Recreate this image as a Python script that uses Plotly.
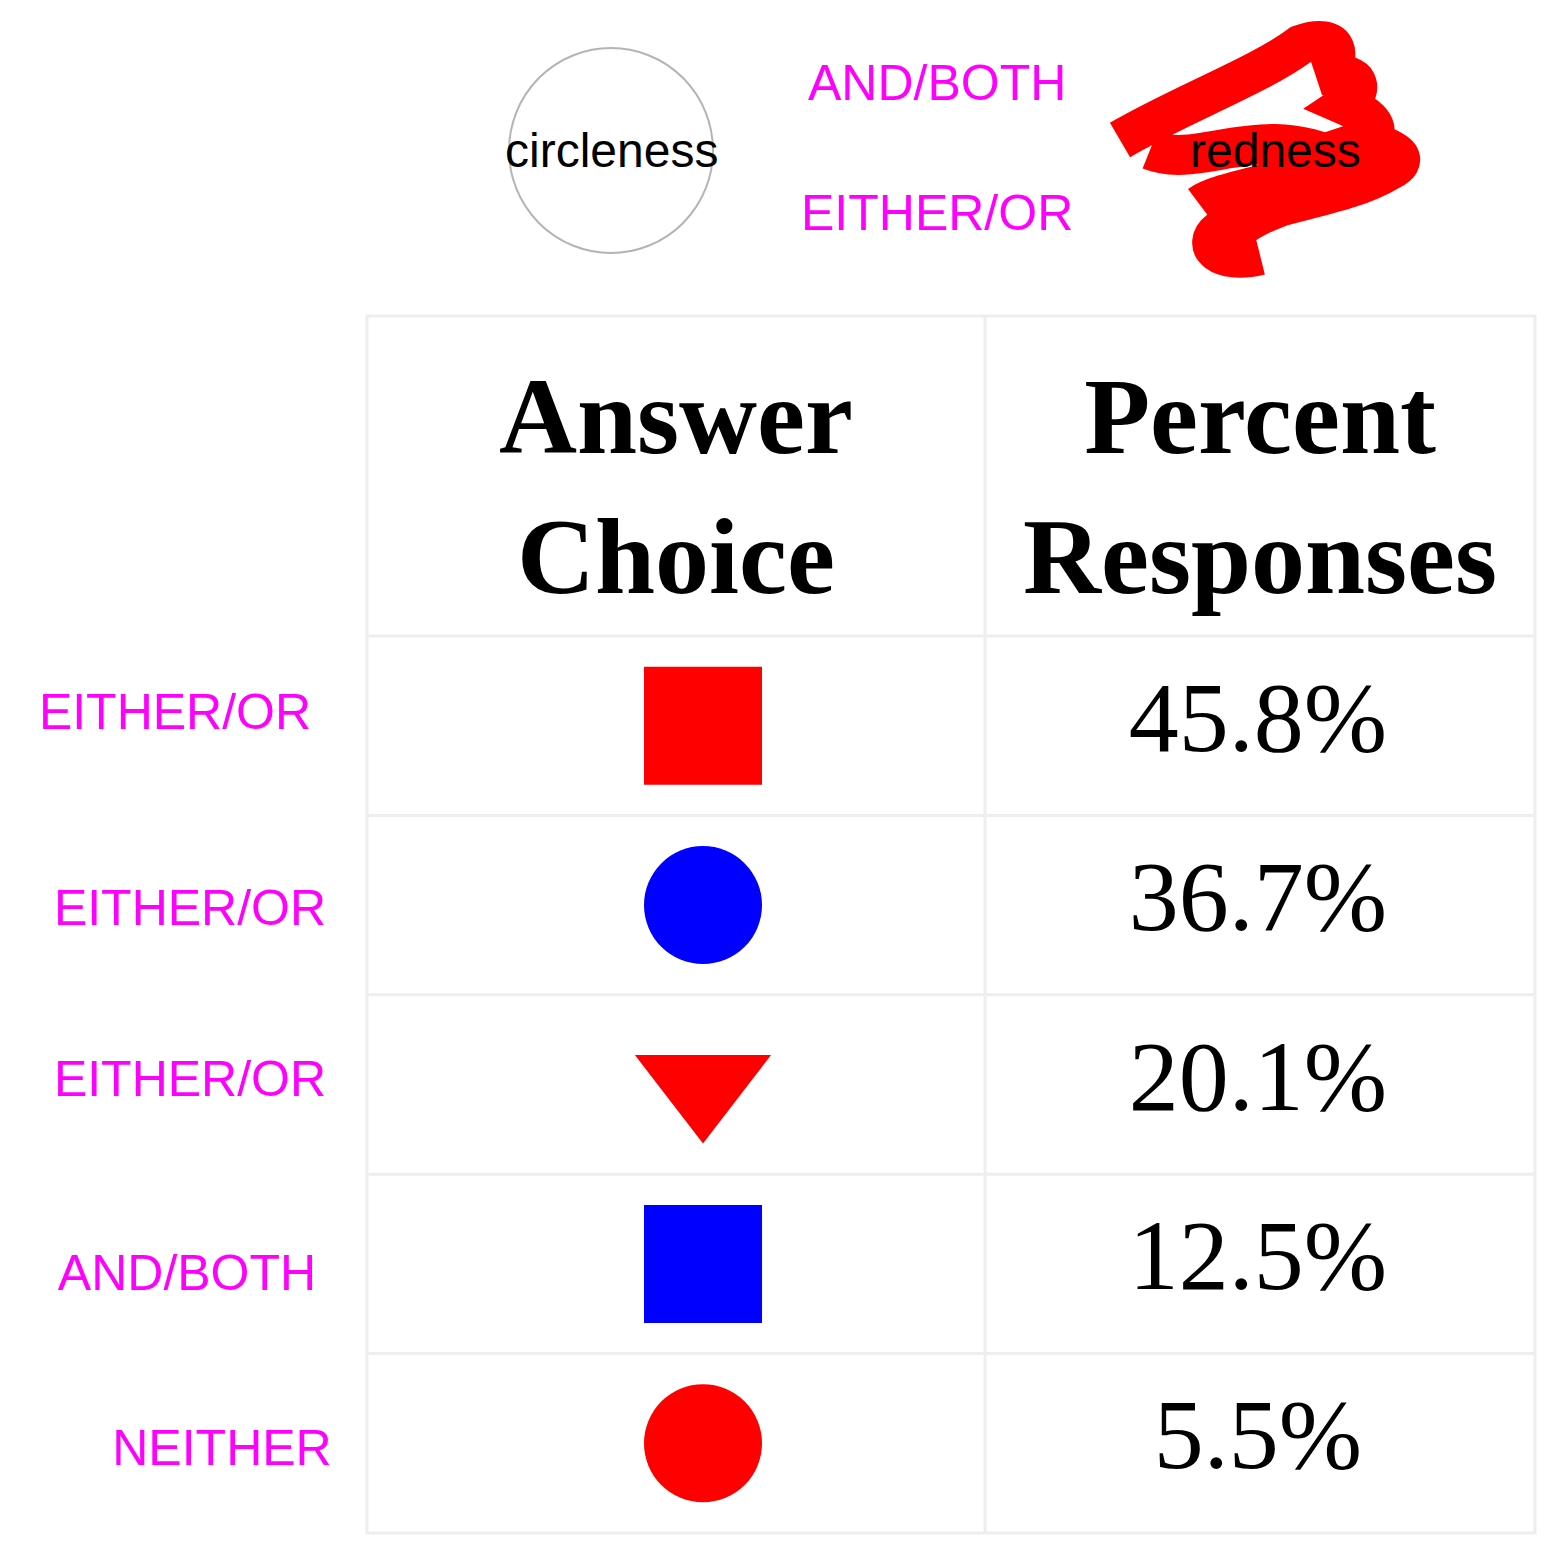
import plotly.graph_objects as go

# table contents
answer_symbols = ['square', 'circle', 'triangle-down', 'square', 'circle']
answer_colors = ['red', 'blue', 'red', 'blue', 'red']
percents = ['45.8%', '36.7%', '20.1%', '12.5%', '5.5%']
row_labels = ['EITHER/OR', 'EITHER/OR', 'EITHER/OR', 'AND/BOTH', 'NEITHER']
label_x = [175, 190, 190, 187, 222]
label_y = [716, 912, 1083, 1277, 1452]
headers = ['<b>Answer</b><br><b>Choice</b>', '<b>Percent</b><br><b>Responses</b>']

W, H = 1560, 1563
OFF = 8  # page margin in the browser
x0, xm, x1 = 367, 985, 1535
y_top, y_head, y_bot = 316, 636, 1533
row_h = (y_bot - y_head) / len(percents)
grid = 'rgb(238,238,238)'

fig = go.Figure()

shapes = [dict(type='rect', x0=x0, x1=x1, y0=y_top, y1=y_bot,
               line=dict(color=grid, width=3))]
shapes.append(dict(type='line', x0=xm, x1=xm, y0=y_top, y1=y_bot, line=dict(color=grid, width=3)))
for i in range(len(percents)):
    y = y_head + i * row_h
    shapes.append(dict(type='line', x0=x0, x1=x1, y0=y, y1=y, line=dict(color=grid, width=3)))

# legend: circle + red scribble
shapes.append(dict(type='circle', x0=509, x1=713, y0=48, y1=253,
                   line=dict(color='rgb(180,180,180)', width=2)))
shapes.append(dict(type='path',
                   path='M 1120,140 C 1180,105 1260,75 1300,45 C 1340,30 1345,60 1320,75 '
                        'C 1370,70 1360,95 1345,105 C 1380,120 1380,135 1365,140 '
                        'C 1400,150 1410,160 1390,170 C 1340,200 1270,200 1220,230 '
                        'C 1200,245 1220,265 1260,255 M 1150,150 C 1200,170 1260,120 1340,160 '
                        'C 1300,180 1220,190 1200,205 M 1230,260 C 1210,240 1250,215 1300,200',
                   line=dict(color='red', width=40)))

row_y = [y_head + (i + 0.5) * row_h for i in range(len(percents))]
cx_a = 703
cx_p = 1258

fig.add_trace(go.Scatter(x=[cx_a] * len(row_y), y=row_y, mode='markers',
                         marker=dict(symbol=answer_symbols, color=answer_colors, size=118,
                                     opacity=1, line=dict(width=0)), hoverinfo='skip'))
fig.add_trace(go.Scatter(x=[cx_p] * len(row_y), y=row_y, mode='text', text=percents,
                         textfont=dict(family='Liberation Serif', size=100, color='black'),
                         hoverinfo='skip'))
fig.add_trace(go.Scatter(x=label_x, y=label_y, mode='text', text=row_labels,
                         textfont=dict(family='Liberation Sans', size=50, color='magenta'),
                         hoverinfo='skip'))

annotations = [
    dict(x=676, y=(y_top + y_head) / 2 + 10, text=headers[0]),
    dict(x=1260, y=(y_top + y_head) / 2 + 10, text=headers[1]),
]
for a in annotations:
    a.update(xref='x', yref='y', showarrow=False,
             font=dict(family='Liberation Serif', size=108, color='black'))
legend_texts = [
    dict(x=611, y=150, text='circleness', font=dict(family='Liberation Sans', size=48, color='black')),
    dict(x=1275, y=150, text='redness', font=dict(family='Liberation Sans', size=48, color='black')),
    dict(x=937, y=83, text='AND/BOTH', font=dict(family='Liberation Sans', size=50, color='magenta')),
    dict(x=937, y=213, text='EITHER/OR', font=dict(family='Liberation Sans', size=50, color='magenta')),
]
for a in legend_texts:
    a.update(xref='x', yref='y', showarrow=False)
annotations += legend_texts

fig.update_layout(
    width=W, height=H, margin=dict(l=0, r=0, t=0, b=0),
    plot_bgcolor='white', paper_bgcolor='white', showlegend=False,
    xaxis=dict(range=[OFF, W + OFF], visible=False, fixedrange=True),
    yaxis=dict(range=[H + OFF, OFF], visible=False, fixedrange=True),
    shapes=shapes, annotations=annotations,
)
fig.write_html("out.html")
